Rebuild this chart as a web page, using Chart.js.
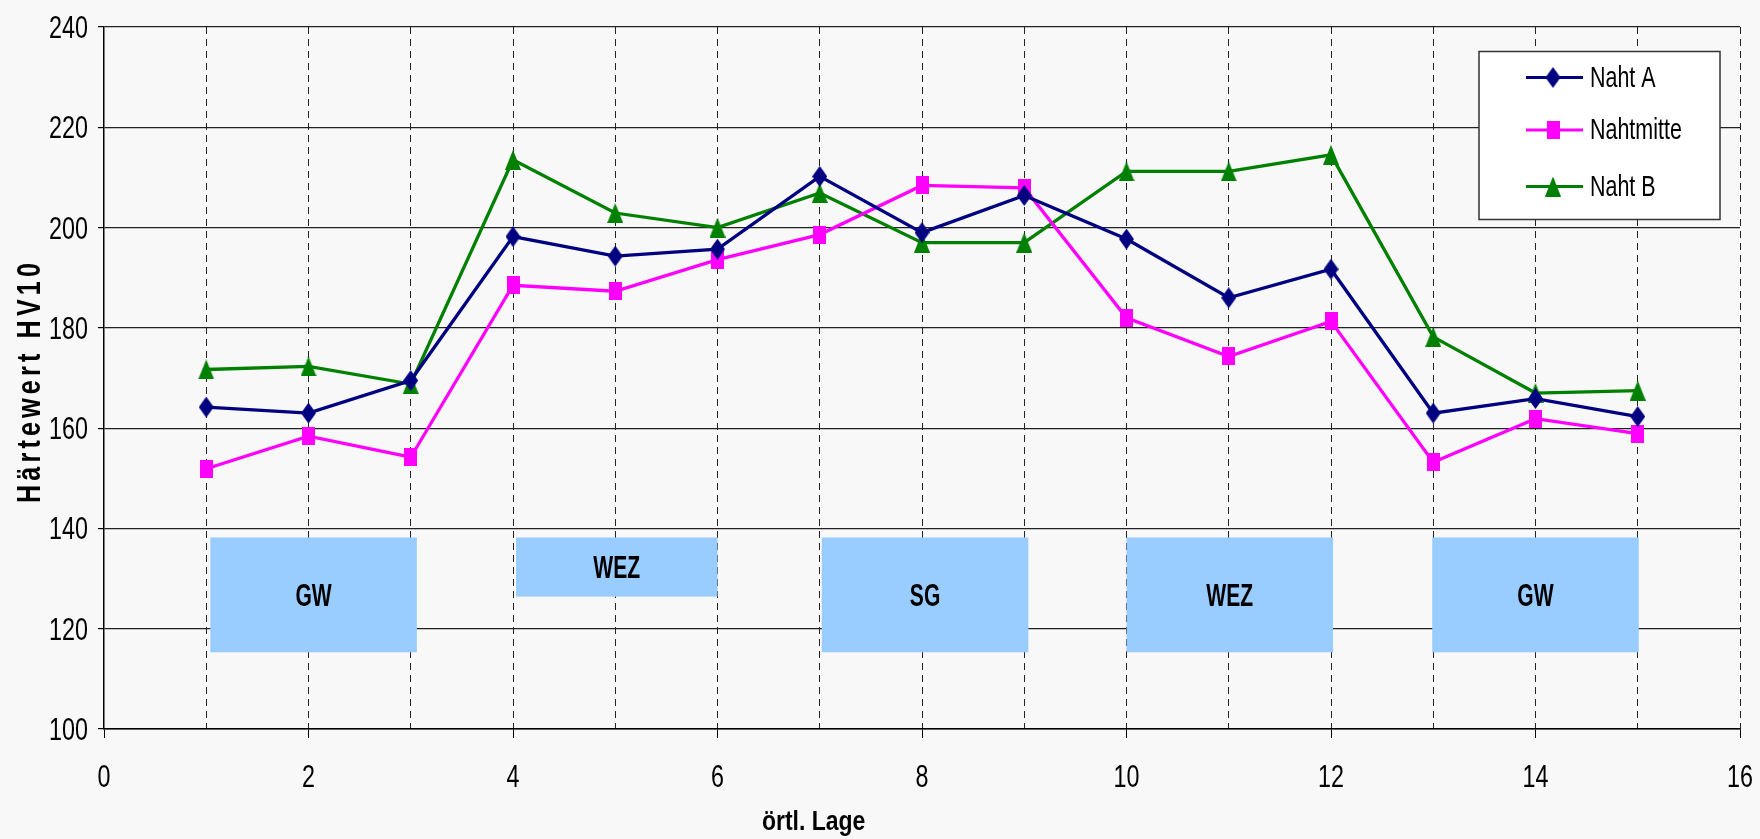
<!DOCTYPE html>
<html>
<head>
<meta charset="utf-8">
<title>Härtewert HV10</title>
<script src="https://cdn.jsdelivr.net/npm/chart.js"></script>
<style>
  html, body { margin: 0; padding: 0; background: #f8f8f8; }
  #wrap { width: 1760px; height: 839px; position: relative; }
</style>
</head>
<body>
<div id="wrap"><canvas id="myChart"></canvas></div>
<script>
// Messpositionen (örtl. Lage) und Härtewerte HV10
var positions = [1, 2, 3, 4, 5, 6, 7, 8, 9, 10, 11, 12, 13, 14, 15];
var nahtA     = [164.2, 163.0, 169.5, 198.2, 194.3, 195.7, 210.2, 199.0, 206.4, 197.7, 186.0, 191.7, 163.0, 165.9, 162.3];
var nahtmitte = [151.9, 158.4, 154.2, 188.5, 187.3, 193.6, 198.6, 208.4, 207.9, 182.0, 174.3, 181.3, 153.2, 161.9, 158.9];
var nahtB     = [171.7, 172.3, 168.8, 213.5, 202.9, 200.0, 206.9, 197.0, 197.0, 211.2, 211.2, 214.5, 178.2, 167.0, 167.5];

// Zonen (Grundwerkstoff, Wärmeeinflusszone, Schweißgut)
var zoneLabels = ['GW', 'WEZ', 'SG', 'WEZ', 'GW'];
var zoneFrom   = [1.04, 4.03, 7.02, 10.0, 12.99];
var zoneTo     = [3.06, 6.0, 9.04, 12.02, 15.01];
var zoneLow    = [115.3, 126.4, 115.3, 115.3, 115.3];
var zoneHigh   = [138.2, 138.2, 138.2, 138.2, 138.2];

// Achsen
var xMin = 0, xMax = 16, xStep = 1;
var yMin = 100, yMax = 240, yStep = 20;

// keine Narrow-Schrift installiert -> Liberation Sans horizontal gestaucht
var fam = "'Liberation Sans', Arial, sans-serif";
var squeeze = 0.74;

function toPoints(values) {
  return positions.map(function (p, i) { return { x: p, y: values[i] }; });
}

function drawNarrow(ctx, text, x, y, font, sx, align) {
  ctx.save();
  ctx.font = font;
  ctx.fillStyle = '#000';
  ctx.textAlign = align || 'center';
  ctx.textBaseline = 'alphabetic';
  ctx.translate(x, y);
  ctx.scale(sx, 1);
  ctx.fillText(text, 0, 0);
  ctx.restore();
}

// Marker als kleine Canvas, etwas hoeher als breit wie im Original
function makeMarker(shape, w, h, color) {
  var c = document.createElement('canvas');
  c.width = w;
  c.height = h;
  var g = c.getContext('2d');
  g.fillStyle = color;
  g.beginPath();
  if (shape === 'diamond') {
    g.moveTo(w / 2, 0); g.lineTo(w, h / 2); g.lineTo(w / 2, h); g.lineTo(0, h / 2);
  } else if (shape === 'square') {
    g.rect(0, 0, w, h);
  } else {
    g.moveTo(w / 2, 0); g.lineTo(w, h); g.lineTo(0, h);
  }
  g.closePath();
  g.fill();
  return c;
}

var markA = makeMarker('diamond', 15, 21, '#000080');
var markM = makeMarker('square', 13, 18, '#ff00ff');
var markB = makeMarker('triangle', 16, 20, '#008000');

var zonePlugin = {
  id: 'zones',
  beforeDatasetsDraw: function (chart) {
    var ctx = chart.ctx, xs = chart.scales.x, ys = chart.scales.y;
    for (var i = 0; i < zoneLabels.length; i++) {
      var x1 = xs.getPixelForValue(zoneFrom[i]), x2 = xs.getPixelForValue(zoneTo[i]);
      var y1 = ys.getPixelForValue(zoneHigh[i]), y2 = ys.getPixelForValue(zoneLow[i]);
      ctx.save();
      ctx.fillStyle = '#99ccff';
      ctx.fillRect(x1, y1, x2 - x1, y2 - y1);
      ctx.restore();
      drawNarrow(ctx, zoneLabels[i], (x1 + x2) / 2, (y1 + y2) / 2 + 11, 'bold 31px ' + fam, 0.68, 'center');
    }
  }
};

// Achsbeschriftungen, Achsentitel und Legende
var decoPlugin = {
  id: 'deco',
  afterDraw: function (chart) {
    var ctx = chart.ctx, area = chart.chartArea, xs = chart.scales.x, ys = chart.scales.y;

    ys.ticks.forEach(function (t) {
      drawNarrow(ctx, String(t.label), area.left - 16, ys.getPixelForValue(t.value) + 11, '31.5px ' + fam, squeeze, 'right');
    });
    xs.ticks.forEach(function (t) {
      if (t.label === '') return;
      drawNarrow(ctx, String(t.label), xs.getPixelForValue(t.value), area.bottom + 57.5, '31.5px ' + fam, squeeze, 'center');
    });

    drawNarrow(ctx, 'örtl. Lage', xs.getPixelForValue(6.94), area.bottom + 101, 'bold 28px ' + fam, 0.82, 'center');

    // y-Titel, gesperrt gesetzt, Zeichen fuer Zeichen
    var yTitle = 'Härtewert HV10';
    var titleLen = 240, sx = 0.74;
    ctx.save();
    ctx.font = 'bold 34px ' + fam;
    ctx.fillStyle = '#000';
    ctx.textAlign = 'left';
    ctx.textBaseline = 'alphabetic';
    var chars = yTitle.split('');
    var widths = chars.map(function (ch) { return ctx.measureText(ch).width * sx; });
    var sum = widths.reduce(function (a, b) { return a + b; }, 0);
    var gap = (titleLen - sum) / (chars.length - 1);
    ctx.translate(area.left - 64.5, (area.top + area.bottom) / 2 + 5);
    ctx.rotate(-Math.PI / 2);
    var pos = -titleLen / 2;
    chars.forEach(function (ch, i) {
      ctx.save();
      ctx.translate(pos, 0);
      ctx.scale(sx, 1);
      ctx.fillText(ch, 0, 0);
      ctx.restore();
      pos += widths[i] + gap;
    });
    ctx.restore();

    // Legende
    var bw = 241, bh = 168;
    var bx = area.right - 20 - bw, by = area.top + 24.5;
    ctx.save();
    ctx.fillStyle = '#ffffff';
    ctx.fillRect(bx, by, bw, bh);
    ctx.strokeStyle = '#333';
    ctx.lineWidth = 1.5;
    ctx.strokeRect(bx, by, bw, bh);
    ctx.restore();
    var rows = [26, 78.5, 135];
    chart.data.datasets.forEach(function (ds, i) {
      var cy = by + rows[i];
      ctx.save();
      ctx.strokeStyle = ds.borderColor;
      ctx.lineWidth = 3;
      ctx.beginPath();
      ctx.moveTo(bx + 47, cy);
      ctx.lineTo(bx + 104, cy);
      ctx.stroke();
      var m = ds.pointStyle;
      ctx.drawImage(m, bx + 74 - m.width / 2, cy - m.height / 2);
      ctx.restore();
      drawNarrow(ctx, ds.label, bx + 111, cy + 9, '29px ' + fam, squeeze, 'left');
    });
  }
};

var ctx = document.getElementById('myChart').getContext('2d');
var myChart = new Chart(ctx, {
  type: 'line',
  data: {
    datasets: [
      {
        label: 'Naht A',
        data: toPoints(nahtA),
        borderColor: '#000080',
        backgroundColor: '#000080',
        borderWidth: 3.3,
        pointStyle: markA,
        pointRadius: 8
      },
      {
        label: 'Nahtmitte',
        data: toPoints(nahtmitte),
        borderColor: '#ff00ff',
        backgroundColor: '#ff00ff',
        borderWidth: 3.3,
        pointStyle: markM,
        pointRadius: 8
      },
      {
        label: 'Naht B',
        data: toPoints(nahtB),
        borderColor: '#008000',
        backgroundColor: '#008000',
        borderWidth: 3.3,
        pointStyle: markB,
        pointRadius: 8
      }
    ]
  },
  options: {
    responsive: true,
    maintainAspectRatio: false,
    animation: false,
    layout: { padding: { left: 0, right: 20, top: 27, bottom: 0 } },
    plugins: {
      legend: { display: false },
      tooltip: { enabled: false }
    },
    scales: {
      x: {
        type: 'linear',
        min: xMin,
        max: xMax,
        afterFit: function (scale) { scale.height = 110; },
        ticks: {
          display: false,
          stepSize: xStep,
          autoSkip: false,
          maxRotation: 0,
          callback: function (v) { return v % 2 === 0 ? String(v) : ''; }
        },
        grid: {
          color: function (c) { return c.tick && c.tick.value === xMin ? 'transparent' : '#222'; },
          lineWidth: 1,
          tickLength: 9,
          tickColor: function (c) { return c.tick && c.tick.value % 2 === 0 ? '#000' : 'transparent'; },
          tickBorderDash: []
        },
        border: { display: true, color: '#000', width: 1.5, dash: [7, 5] }
      },
      y: {
        min: yMin,
        max: yMax,
        afterFit: function (scale) { scale.width = 104; },
        ticks: {
          display: false,
          stepSize: yStep
        },
        grid: {
          color: '#222',
          lineWidth: 1.2,
          tickLength: 6,
          tickColor: '#000'
        },
        border: { display: true, color: '#000', width: 1.5 }
      }
    }
  },
  plugins: [zonePlugin, decoPlugin]
});
</script>
</body>
</html>
